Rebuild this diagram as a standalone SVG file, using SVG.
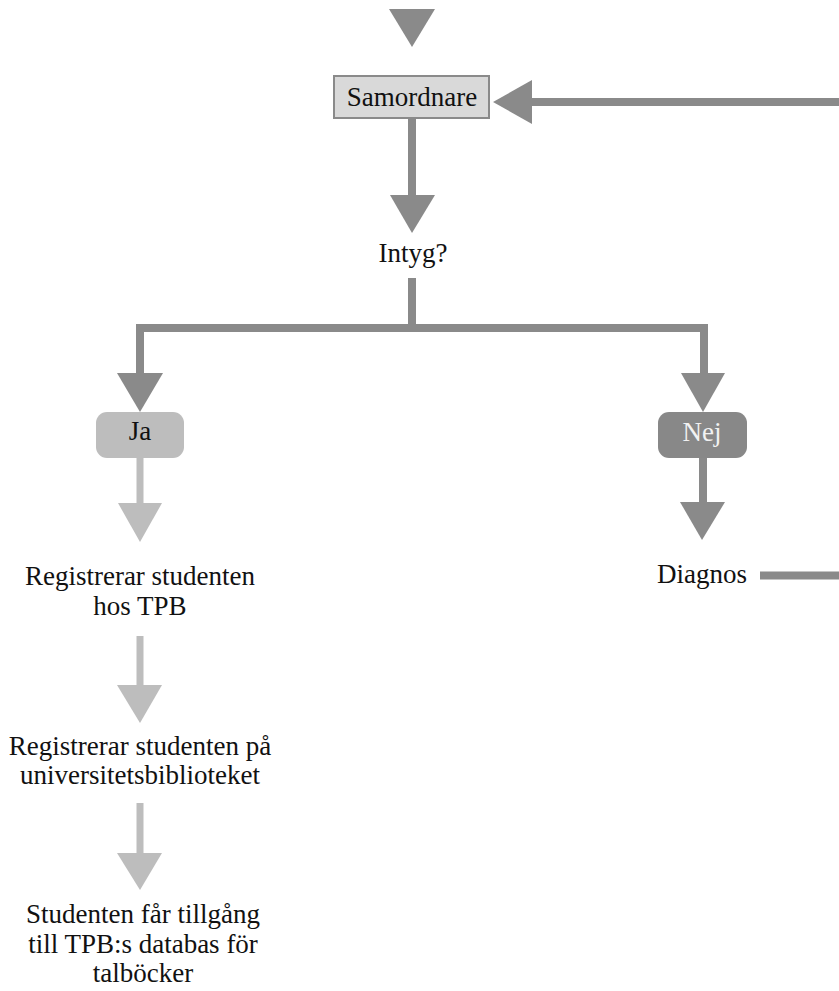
<svg xmlns="http://www.w3.org/2000/svg" width="839" height="991" viewBox="0 0 839 991">
  <style>
    text { font-family: "Liberation Serif", "Times New Roman", serif; font-size: 27px; fill: #111; text-anchor: middle; }
    .dark { stroke: #8a8a8a; stroke-width: 8; fill: none; stroke-linecap: butt; stroke-linejoin: miter; }
    .light { stroke: #bdbdbd; stroke-width: 7; fill: none; stroke-linecap: butt; }
    .head-dark { fill: #8a8a8a; }
    .head-light { fill: #bdbdbd; }
  </style>
  <rect width="839" height="991" fill="#ffffff"/>

  <!-- connectors -->
  <g id="connectors">
    <!-- incoming from above -->
    <polygon class="head-dark" points="389,9 435,9 412,47"/>
    <!-- loop back from Diagnos into Samordnare -->
    <line class="dark" x1="839" y1="102" x2="530" y2="102"/>
    <polygon class="head-dark" points="532,80 532,124 493,102"/>
    <line class="dark" x1="760" y1="575.5" x2="839" y2="575.5"/>
    <!-- Samordnare to Intyg? -->
    <line class="dark" x1="412" y1="118" x2="412" y2="197"/>
    <polygon class="head-dark" points="390,195 435,195 412,233"/>
    <!-- split to Ja / Nej -->
    <path class="dark" d="M412,278 V328 M140,375 V328 H704 V375"/>
    <polygon class="head-dark" points="117,373 163,373 140,412"/>
    <polygon class="head-dark" points="681,373 725,373 703,412"/>
    <!-- Nej to Diagnos -->
    <line class="dark" x1="703" y1="458" x2="703" y2="504"/>
    <polygon class="head-dark" points="680,502 725,502 702,540"/>
    <!-- Ja chain -->
    <line class="light" x1="140" y1="458" x2="140" y2="505"/>
    <polygon class="head-light" points="118,503 162,503 140,542"/>
    <line class="light" x1="140" y1="636" x2="140" y2="687"/>
    <polygon class="head-light" points="117,685 162,685 140,723"/>
    <line class="light" x1="140" y1="803" x2="140" y2="855"/>
    <polygon class="head-light" points="117,853 162,853 140,890"/>
  </g>

  <g id="samordnare">
    <rect x="334" y="76" width="155" height="42" fill="#d9d9d9" stroke="#8a8a8a" stroke-width="2"/>
    <text x="412" y="106">Samordnare</text>
  </g>

  <g id="intyg">
    <text x="413" y="262">Intyg?</text>
  </g>

  <g id="ja">
    <rect x="96" y="412" width="88" height="46" rx="11" fill="#bdbdbd"/>
    <text x="140" y="440">Ja</text>
  </g>

  <g id="nej">
    <rect x="658" y="412" width="89" height="46" rx="11" fill="#888888"/>
    <text x="702" y="441" style="fill:#f2f2f2">Nej</text>
  </g>

  <g id="diagnos">
    <text x="702" y="583">Diagnos</text>
  </g>

  <g id="registrerar-tpb">
    <text x="140" y="585">Registrerar studenten</text>
    <text x="140" y="615">hos TPB</text>
  </g>

  <g id="registrerar-ub">
    <text x="140" y="755">Registrerar studenten på</text>
    <text x="140" y="784">universitetsbiblioteket</text>
  </g>

  <g id="tillgang">
    <text x="143" y="923">Studenten får tillgång</text>
    <text x="143" y="953">till TPB:s databas för</text>
    <text x="143" y="982">talböcker</text>
  </g>
</svg>
